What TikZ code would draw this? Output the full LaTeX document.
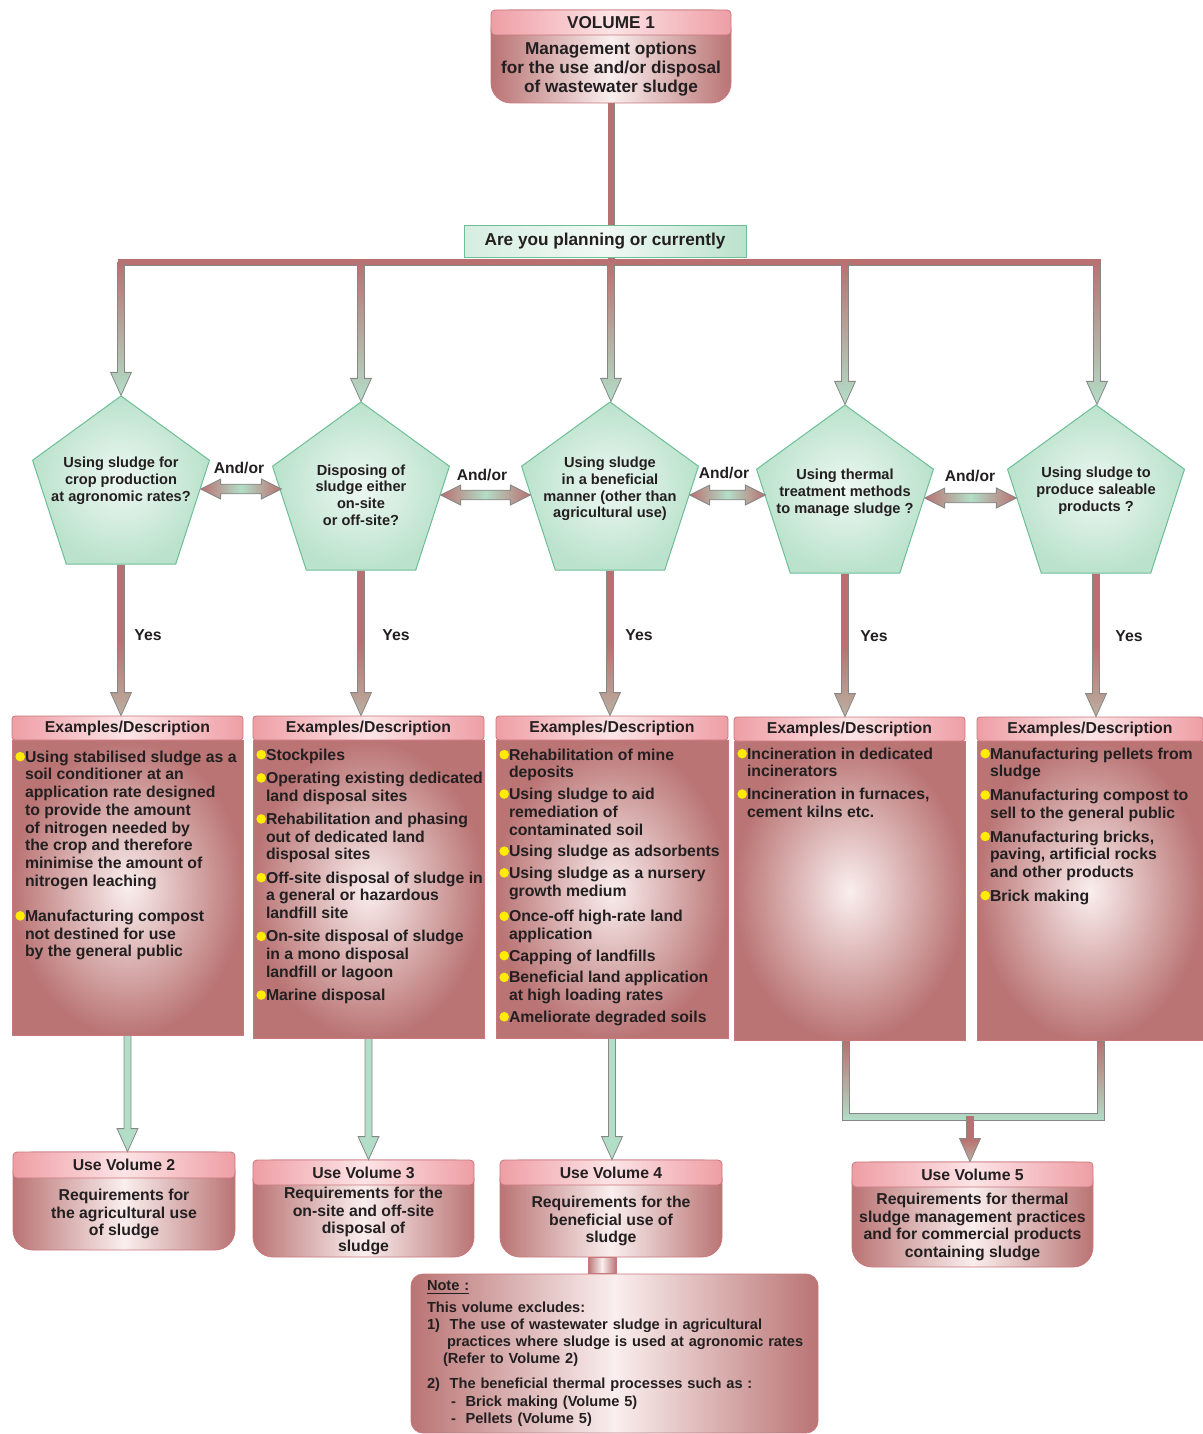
\documentclass[tikz,border=0pt]{standalone}
\usepackage{fontspec}
\setmainfont{Liberation Sans}
\usetikzlibrary{positioning,calc,shapes.geometric}

\definecolor{pipered}{RGB}{186,112,112}
\definecolor{pipegreen}{RGB}{178,222,200}
\definecolor{pipeedge}{RGB}{135,135,135}
\definecolor{headbeige}{RGB}{186,176,160}
\definecolor{boxred}{RGB}{186,116,116}
\definecolor{boxlight}{RGB}{250,238,238}
\definecolor{boxedge}{RGB}{200,120,125}
\definecolor{headpink}{RGB}{238,158,165}
\definecolor{headlight}{RGB}{252,228,230}
\definecolor{pentgreen}{RGB}{186,226,204}
\definecolor{pentedge}{RGB}{110,190,150}
\definecolor{textdark}{RGB}{35,31,32}
\definecolor{bulletyellow}{RGB}{255,236,0}

\newcommand{\ybullet}{\tikz[baseline=-2.8pt]\fill[bulletyellow] (0,0) circle (2.4pt);}
\newenvironment{exlist}[1]{\begin{list}{\ybullet}{\setlength{\leftmargin}{6.5pt}\setlength{\labelwidth}{6.5pt}%
  \setlength{\labelsep}{0pt}\setlength{\rightmargin}{-12pt}\setlength{\topsep}{0pt}\setlength{\partopsep}{0pt}%
  \setlength{\parsep}{0pt}\setlength{\itemsep}{#1}\setlength{\itemindent}{0pt}}\raggedright}{\end{list}}

\tikzset{
  bar/.style={draw=pipeedge, line width=0.45pt, double=pipered, double distance=2.6pt},
  down pipe/.style={to path={let \p1=(\tikztostart), \p2=(\tikztotarget) in
    (\x1-1.75pt,\y1) -- (\x1-1.75pt,\y2+11.5pt) -- (\x1-5.2pt,\y2+11.5pt) -- (\x1,\y2)
    -- (\x1+5.2pt,\y2+11.5pt) -- (\x1+1.75pt,\y2+11.5pt) -- (\x1+1.75pt,\y1)}},
  and arrow/.style={to path={let \p1=(\tikztostart), \p2=(\tikztotarget) in
    (\x1,\y1) -- (\x1+10pt,\y1+5pt) -- (\x1+10pt,\y1+2.4pt) -- (\x2-10pt,\y1+2.4pt) -- (\x2-10pt,\y1+5pt) -- (\x2,\y1)
    -- (\x2-10pt,\y1-5pt) -- (\x2-10pt,\y1-2.4pt) -- (\x1+10pt,\y1-2.4pt) -- (\x1+10pt,\y1-5pt) -- cycle}},
  fork/.style={to path={let \p1=(\tikztostart), \p2=(\tikztotarget) in
    (\x1-1.75pt,\y1) -- (\x1-1.75pt,\y1-39.75pt) -- (\x2+1.75pt,\y1-39.75pt) -- (\x2+1.75pt,\y2)
    -- (\x2-1.75pt,\y2) -- (\x2-1.75pt,\y1-36.25pt) -- (\x1+1.75pt,\y1-36.25pt) -- (\x1+1.75pt,\y1)}},
  stub/.style={to path={let \p1=(\tikztostart), \p2=(\tikztotarget) in (\x1-7pt,\y1) rectangle (\x1+7pt,\y2)}},
  pent/.style={regular polygon, regular polygon sides=5, minimum size=93pt, inner sep=0pt, draw=pentedge,
    line width=0.5pt, inner color=pentgreen!25!white, outer color=pentgreen},
  pentext/.style={align=center, text=textdark, font=\bfseries\fontsize{7.3}{8.4}\selectfont},
  ask/.style={draw=pentedge, minimum width=141pt, minimum height=16pt, inner sep=0pt, left color=pentgreen!60!white,
    right color=pentgreen, middle color=white!80!pentgreen, font=\bfseries\fontsize{8.6}{10}\selectfont},
  exhead/.style={draw=boxedge, rounded corners=1.5pt, inner sep=0pt, minimum width=#1, minimum height=12pt,
    left color=headpink, right color=headpink, middle color=headlight, font=\bfseries\fontsize{7.9}{9}\selectfont},
  exbody/.style={draw=boxedge, inner sep=0pt, inner color=boxlight, outer color=boxred,
    font=\bfseries\fontsize{7.9}{8.85}\selectfont},
  volbody/.style={draw=boxedge, rounded corners=10pt, inner sep=0pt, left color=boxred, right color=boxred,
    middle color=boxlight, font=\bfseries\fontsize{7.9}{8.8}\selectfont},
  volhead/.style={draw=boxedge, rounded corners=2pt, anchor=north, inner sep=0pt, minimum width=#1, minimum height=12.5pt,
    left color=headpink, right color=headpink, middle color=headlight, font=\bfseries\fontsize{7.9}{9}\selectfont},
  notebox/.style={draw=boxedge, rounded corners=6pt, inner xsep=4pt, inner ysep=0pt, minimum width=203.5pt,
    minimum height=79.5pt, text width=195.5pt, align=left, left color=boxred, right color=boxred,
    middle color=boxlight, font=\bfseries\fontsize{7.3}{8.6}\selectfont},
  andor/.style={font=\bfseries\fontsize{7.8}{9}\selectfont},
  yeslabel/.style={font=\bfseries\fontsize{7.9}{9}\selectfont},
}

\begin{document}
\begin{tikzpicture}[x=0.5pt,y=-0.5pt,every node/.style={text=textdark}]
\useasboundingbox (0,0) rectangle (1203,1434);

% top box
\node[volbody] (v1) at (611,56.5) {\parbox[c][46.5pt][s]{120pt}{\centering\fontsize{8.6}{9.5}\selectfont\vspace*{12.5pt}\vfill
  Management options\\for the use and/or disposal\\of wastewater sludge\vfill}};
\node[volhead=120pt] (h1) at (v1.north) {\fontsize{8.6}{9.5}\selectfont VOLUME 1};

\coordinate (c1) at (121,262);
\coordinate (c2) at (361,262);
\coordinate (c3) at (611,262);
\coordinate (c4) at (845,262);
\coordinate (c5) at (1097,262);
\draw[bar] (v1.south) -- (c3);
\draw[bar] ([xshift=-1.75pt]c1) -- ([xshift=1.75pt]c5);
\node[ask] (ask) at (605,241) {Are you planning or currently};

% questions
\node[pent, label={[pentext, yshift=4pt]center:Using sludge for\\crop production\\at agronomic rates?}] (p1) at (121,489) {};
\node[pent, label={[pentext]center:Disposing of\\sludge either\\on-site\\or off-site?}] (p2) at (361,495) {};
\node[pent, label={[pentext, yshift=3pt]center:Using sludge\\in a beneficial\\manner (other than\\agricultural use)}] (p3) at (610,495) {};
\node[pent, label={[pentext, yshift=2.5pt]center:Using thermal\\treatment methods\\to manage sludge ?}] (p4) at (845,498) {};
\node[pent, label={[pentext, yshift=3.5pt]center:Using sludge to\\produce saleable\\products ?}] (p5) at (1096,498) {};

\foreach \i in {1,...,5}
  \shadedraw[down pipe, top color=pipered, bottom color=pipegreen, middle color=pipegreen!50!pipered, draw=pipeedge] (c\i) to (p\i.north);

\shadedraw[and arrow, left color=pipered, right color=pipered, middle color=pipegreen, draw=pipeedge] (p1.east) to (p2.west);
\shadedraw[and arrow, left color=pipered, right color=pipered, middle color=pipegreen, draw=pipeedge] (p2.east) to (p3.west);
\shadedraw[and arrow, left color=pipered, right color=pipered, middle color=pipegreen, draw=pipeedge] (p3.east) to (p4.west);
\shadedraw[and arrow, left color=pipered, right color=pipered, middle color=pipegreen, draw=pipeedge] (p4.east) to (p5.west);
\node[andor] (o12) at (239,468) {And/or};
\node[andor] (o23) at (482,475) {And/or};
\node[andor] (o34) at (724,473) {And/or};
\node[andor] (o45) at (970,476) {And/or};

% examples
\node[exhead=115.5pt] (eh1) at (127.5,728) {Examples/Description};
\node[exbody, below=0pt of eh1] (e1) {\makebox[115.5pt][l]{\parbox[c][147.5pt][t]{115.5pt}{\vspace{5pt}\begin{exlist}{0pt}
  \item Using stabilised sludge as a\\soil conditioner at an\\application rate designed\\to provide the amount\\of nitrogen needed by\\the crop and therefore\\minimise the amount of\\nitrogen leaching\par\vspace{8.8pt}
  \item Manufacturing compost\\not destined for use\\by the general public
  \end{exlist}}}};
\node[exhead=115.5pt] (eh2) at (368.5,728) {Examples/Description};
\node[exbody, below=0pt of eh2] (e2) {\makebox[115.5pt][l]{\parbox[c][149pt][t]{115.5pt}{\vspace{4pt}\begin{exlist}{2.8pt}
  \item Stockpiles
  \item Operating existing dedicated\\land disposal sites
  \item Rehabilitation and phasing\\out of dedicated land\\disposal sites
  \item Off-site disposal of sludge in\\a general or hazardous\\landfill site
  \item On-site disposal of sludge\\in a mono disposal\\landfill or lagoon
  \item Marine disposal
  \end{exlist}}}};
\node[exhead=116pt] (eh3) at (612,728) {Examples/Description};
\node[exbody, below=0pt of eh3] (e3) {\makebox[116pt][l]{\parbox[c][149pt][t]{116pt}{\vspace{4pt}\begin{exlist}{2pt}
  \item Rehabilitation of mine\\deposits
  \item Using sludge to aid\\remediation of\\contaminated soil
  \item Using sludge as adsorbents
  \item Using sludge as a nursery\\growth medium\par\vspace{2pt}
  \item Once-off high-rate land\\application
  \item Capping of landfills
  \item Beneficial land application\\at high loading rates
  \item Ameliorate degraded soils
  \end{exlist}}}};
\node[exhead=115.5pt] (eh4) at (849.5,729) {Examples/Description};
\node[exbody, below=0pt of eh4] (e4) {\makebox[115.5pt][l]{\parbox[c][149.5pt][t]{115.5pt}{\vspace{3pt}\begin{exlist}{2.5pt}
  \item Incineration in dedicated\\incinerators
  \item Incineration in furnaces,\\cement kilns etc.
  \end{exlist}}}};
\node[exhead=113pt] (eh5) at (1090,729) {Examples/Description};
\node[exbody, below=0pt of eh5] (e5) {\makebox[113pt][l]{\parbox[c][149.5pt][t]{113pt}{\vspace{3pt}\begin{exlist}{3pt}
  \item Manufacturing pellets from\\sludge
  \item Manufacturing compost to\\sell to the general public
  \item Manufacturing bricks,\\paving, artificial rocks\\and other products
  \item Brick making
  \end{exlist}}}};

\foreach \i in {1,...,5}
  \shadedraw[down pipe, top color=pipered, bottom color=headbeige, middle color=pipered, draw=pipeedge] (p\i.south) to (eh\i.north);
\node[yeslabel] (y1) at (148,635) {Yes};
\node[yeslabel] (y2) at (396,635) {Yes};
\node[yeslabel] (y3) at (639,635) {Yes};
\node[yeslabel] (y4) at (874,636) {Yes};
\node[yeslabel] (y5) at (1129,636) {Yes};

% volumes
\node[volbody] (u2) at (124,1201) {\parbox[c][49pt][s]{111pt}{\centering\vspace*{13pt}\vfill
  Requirements for\\the agricultural use\\of sludge\vfill}};
\node[volhead=111pt, minimum height=13pt] (h2) at (u2.north) {Use Volume 2};
\node[volbody] (u3) at (363.5,1208.5) {\parbox[c][48.5pt][s]{110.5pt}{\centering\vspace*{12.5pt}\vfill
  Requirements for the\\on-site and off-site\\disposal of\\sludge\vfill}};
\node[volhead=110.5pt] (h3) at (u3.north) {Use Volume 3};
\node[volbody] (u4) at (611,1208.5) {\parbox[c][48.5pt][s]{111pt}{\centering\vspace*{12.5pt}\vfill
  Requirements for the\\beneficial use of\\sludge\vfill}};
\node[volhead=111pt] (h4) at (u4.north) {Use Volume 4};
\node[volbody] (u5) at (972.5,1214.5) {\parbox[c][52.5pt][s]{120.5pt}{\centering\vspace*{12.5pt}\vfill
  Requirements for thermal\\sludge management practices\\and for commercial products\\containing sludge\vfill}};
\node[volhead=120.5pt] (h5) at (u5.north) {Use Volume 5};

\filldraw[down pipe, fill=pipegreen, draw=pipeedge] (e1.south) to (h2.north);
\filldraw[down pipe, fill=pipegreen, draw=pipeedge] (e2.south) to (h3.north);
\filldraw[down pipe, fill=pipegreen, draw=pipeedge] (e3.south) to (h4.north);
\shadedraw[fork, top color=pipered, bottom color=pipegreen, draw=pipeedge] ([xshift=-1.75pt]e4.south) to ([xshift=5.5pt]e5.south);
\coordinate (m5) at (970,1116);
\shadedraw[down pipe, top color=pipered, bottom color=headbeige, middle color=pipered, draw=pipeedge] (m5) to (h5.north);

% note
\node[notebox] (note) at (614.5,1353.5) {\hspace*{4pt}\underline{Note :}\\[2pt]
  \hspace*{4pt}This volume excludes:\\
  \hspace*{4pt}1)\ \ The use of wastewater sludge in agricultural\\
  \hspace*{14pt}practices where sludge is used at agronomic rates\\
  \hspace*{12pt}(Refer to Volume 2)\\[4pt]
  \hspace*{4pt}2)\ \ The beneficial thermal processes such as :\\
  \hspace*{16pt}-\ \ Brick making (Volume 5)\\
  \hspace*{16pt}-\ \ Pellets (Volume 5)};
\shadedraw[stub, left color=boxred, right color=boxred, middle color=boxlight, draw=boxedge] ([xshift=-4.5pt]u4.south) to (note.north);
\end{tikzpicture}
\end{document}
